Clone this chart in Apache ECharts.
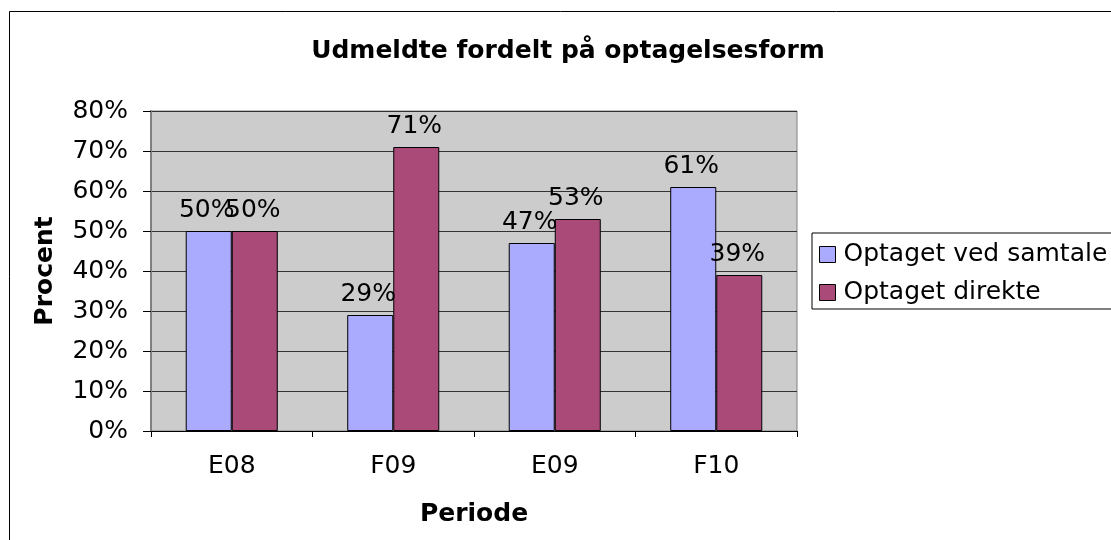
<!DOCTYPE html>
<html lang="da">
<head>
    <meta charset="UTF-8">
    <title>Udmeldte fordelt på optagelsesform</title>
    <script src="https://cdn.jsdelivr.net/npm/echarts@6/dist/echarts.min.js"></script>
</head>
<style>
    *{
        margin: 0;
        padding: 0;
    }
    html,body{
        width: 100%;
        height: 100%;
        overflow: hidden;
        background: #fff;
    }
    .container{
        width: 1111px;
        height: 540px;
    }
</style>
<body>
<div class="container"></div>
<script>
    let categories = ['E08', 'F09', 'E09', 'F10'];
    let samtale = [50, 29, 47, 61];
    let direkte = [50, 71, 53, 39];
    let yTicks = [0, 10, 20, 30, 40, 50, 60, 70, 80];

    let font = 'DejaVu Sans';
    let fs = 25;
    let mycharts = echarts.init(document.querySelector('.container'));

    let labelStyle = {
        show: true,
        position: 'top',
        distance: 8,
        offset: [-2, 0],
        color: '#000',
        fontFamily: font,
        fontSize: fs,
        formatter: p => p.value + '%'
    };

    let options = {
        animation: false,
        backgroundColor: '#fff',
        graphic: [{
            type: 'rect',
            shape: {x: 9.5, y: 11.5, width: 1200, height: 600},
            style: {fill: 'none', stroke: '#000', lineWidth: 1},
            z: -10
        }],
        title: {
            text: 'Udmeldte fordelt på optagelsesform',
            left: 563,
            textAlign: 'center',
            top: 34,
            textStyle: {
                fontFamily: font,
                fontSize: fs,
                fontWeight: 'bold',
                color: '#000'
            }
        },
        legend: {
            orient: 'vertical',
            left: 812,
            top: 233,
            itemWidth: 16,
            itemHeight: 16,
            itemGap: 13,
            padding: [9, 60, 4, 7],
            borderColor: '#000',
            borderWidth: 1,
            icon: 'rect',
            itemStyle: {borderColor: '#000', borderWidth: 1},
            textStyle: {
                fontFamily: font,
                fontSize: fs,
                color: '#000',
                padding: [0, 0, 0, 3]
            },
            data: ['Optaget ved samtale', 'Optaget direkte']
        },
        grid: {
            left: 151,
            top: 111,
            right: 314,
            bottom: 109,
            show: true,
            backgroundColor: '#cccccc',
            borderColor: '#808080',
            borderWidth: 1
        },
        xAxis: {
            type: 'category',
            data: categories,
            name: 'Periode',
            nameLocation: 'middle',
            nameGap: 71,
            nameTextStyle: {fontFamily: font, fontSize: fs, fontWeight: 'bold', color: '#000'},
            axisLine: {lineStyle: {color: '#000'}},
            axisTick: {show: true, length: 6, lineStyle: {color: '#000'}},
            axisLabel: {fontFamily: font, fontSize: fs, color: '#000', margin: 23}
        },
        yAxis: {
            type: 'value',
            min: 0,
            max: 80,
            interval: 10,
            name: 'Procent',
            nameLocation: 'middle',
            nameGap: 93,
            nameTextStyle: {fontFamily: font, fontSize: fs, fontWeight: 'bold', color: '#000'},
            axisLine: {show: true, lineStyle: {color: '#808080', width: 2}},
            axisTick: {show: true, length: 8, lineStyle: {color: '#000'}},
            axisLabel: {
                fontFamily: font, fontSize: fs, color: '#000', margin: 23,
                formatter: v => yTicks.includes(v) ? v + '%' : ''
            },
            splitLine: {lineStyle: {color: '#333', width: 1}}
        },
        series: [
            {
                name: 'Optaget ved samtale',
                type: 'bar',
                data: samtale,
                barGap: '0%',
                barCategoryGap: '43%',
                itemStyle: {color: '#aaaaff', borderColor: '#000', borderWidth: 1},
                label: labelStyle
            },
            {
                name: 'Optaget direkte',
                type: 'bar',
                data: direkte,
                itemStyle: {color: '#a94a78', borderColor: '#000', borderWidth: 1},
                label: labelStyle
            }
        ]
    };
    mycharts.setOption(options);
</script>
</body>
</html>
